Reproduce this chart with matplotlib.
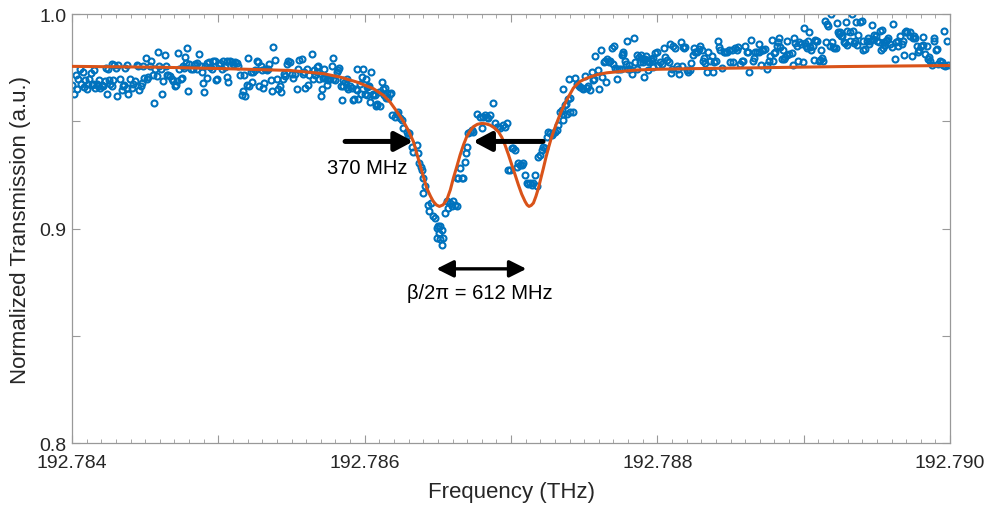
import matplotlib
matplotlib.use('Agg')
import matplotlib.pyplot as plt
import numpy as np

plt.rcParams['font.family'] = ['Liberation Sans', 'DejaVu Sans']

# frequencies are offsets in MHz from 192.784 THz, transmission normalised
base_thz = 192.784

# measured points, low-frequency wing
wing_low = [
    (2, 0.9670), (14, 0.9629), (25, 0.9714), (36, 0.9652), (43, 0.9698), (55, 0.9745), (59, 0.9675),
    (73, 0.9732), (82, 0.9660), (89, 0.9691), (100, 0.9652), (112, 0.9675), (118, 0.9698), (128, 0.9726),
    (134, 0.9670), (146, 0.9675), (150, 0.9737), (157, 0.9655), (169, 0.9675), (180, 0.9664), (187, 0.9691),
    (191, 0.9655), (203, 0.9670), (214, 0.9664), (226, 0.9686), (232, 0.9748), (237, 0.9629), (248, 0.9742),
    (255, 0.9691), (260, 0.9675), (271, 0.9768), (273, 0.9664), (282, 0.9691), (287, 0.9763), (301, 0.9748),
    (310, 0.9618), (317, 0.9763), (328, 0.9698), (339, 0.9644), (346, 0.9664), (355, 0.9670), (362, 0.9748),
    (374, 0.9763), (378, 0.9655), (385, 0.9629), (396, 0.9698), (408, 0.9655), (419, 0.9675), (431, 0.9686),
    (442, 0.9763), (453, 0.9760), (460, 0.9644), (469, 0.9664), (476, 0.9680), (487, 0.9760), (492, 0.9701),
    (506, 0.9794), (515, 0.9698), (522, 0.9706), (533, 0.9760), (538, 0.9779), (551, 0.9717), (560, 0.9587),
    (567, 0.9742), (579, 0.9711), (590, 0.9822), (597, 0.9757), (606, 0.9742), (613, 0.9629), (624, 0.9686),
    (636, 0.9807), (642, 0.9760), (651, 0.9714), (658, 0.9717), (670, 0.9711), (681, 0.9698), (693, 0.9686),
    (704, 0.9664), (711, 0.9670), (720, 0.9686), (727, 0.9819), (734, 0.9742), (743, 0.9698), (749, 0.9701),
    (761, 0.9760), (765, 0.9748), (772, 0.9799), (779, 0.9773), (788, 0.9841), (795, 0.9640), (802, 0.9768),
    (811, 0.9742), (825, 0.9742), (834, 0.9763), (841, 0.9768), (852, 0.9773), (857, 0.9742), (870, 0.9814),
    (879, 0.9760), (886, 0.9732), (898, 0.9680), (902, 0.9636), (909, 0.9760), (920, 0.9773), (925, 0.9701),
    (939, 0.9776), (943, 0.9752), (954, 0.9745), (966, 0.9779), (977, 0.9779), (984, 0.9691), (993, 0.9698),
    (1007, 0.9763), (1011, 0.9773), (1023, 0.9745), (1034, 0.9779), (1046, 0.9752), (1057, 0.9779),
    (1062, 0.9706), (1068, 0.9683), (1080, 0.9779), (1091, 0.9776), (1103, 0.9768), (1114, 0.9776),
    (1125, 0.9773), (1137, 0.9760), (1148, 0.9717), (1160, 0.9621), (1166, 0.9640), (1175, 0.9717),
    (1182, 0.9618), (1194, 0.9670), (1205, 0.9794), (1212, 0.9664), (1221, 0.9729), (1228, 0.9683),
    (1239, 0.9732), (1251, 0.9737), (1262, 0.9779), (1273, 0.9776), (1280, 0.9664), (1289, 0.9760),
    (1296, 0.9737), (1303, 0.9655), (1312, 0.9680), (1319, 0.9745), (1330, 0.9737), (1342, 0.9745),
    (1349, 0.9768), (1358, 0.9691), (1365, 0.9640), (1376, 0.9845), (1387, 0.9788), (1399, 0.9698),
    (1410, 0.9652), (1421, 0.9664), (1426, 0.9636), (1440, 0.9698), (1449, 0.9722), (1456, 0.9711),
    (1467, 0.9768), (1478, 0.9779), (1490, 0.9776), (1501, 0.9722), (1513, 0.9701), (1524, 0.9722),
    (1535, 0.9652), (1547, 0.9742), (1554, 0.9788),
    (1570, 0.9791), (1577, 0.9722), (1586, 0.9732), (1593, 0.9655), (1604, 0.9745), (1615, 0.9670),
    (1622, 0.9717), (1638, 0.9814), (1645, 0.9698), (1654, 0.9737), (1661, 0.9717), (1672, 0.9752),
    (1677, 0.9732), (1684, 0.9760), (1690, 0.9695), (1700, 0.9618), (1706, 0.9652), (1718, 0.9701),
    (1722, 0.9745), (1729, 0.9701), (1741, 0.9670), (1745, 0.9698), (1752, 0.9691), (1763, 0.9698),
    (1775, 0.9757), (1782, 0.9794), (1786, 0.9698), (1798, 0.9691), (1809, 0.9729), (1820, 0.9737),
    (1827, 0.9748), (1836, 0.9664), (1843, 0.9598), (1850, 0.9691), (1854, 0.9664), (1866, 0.9683),
    (1877, 0.9660), (1882, 0.9698), (1889, 0.9649), (1900, 0.9664), (1911, 0.9655), (1918, 0.9598),
    (1927, 0.9602), (1941, 0.9652), (1946, 0.9644), (1950, 0.9745), (1957, 0.9602), (1968, 0.9675),
    (1973, 0.9629), (1980, 0.9706), (1991, 0.9745), (2003, 0.9629), (2009, 0.9698), (2014, 0.9621),
    (2018, 0.9660), (2025, 0.9664), (2032, 0.9664), (2037, 0.9590), (2041, 0.9729), (2055, 0.9629),
    (2060, 0.9621), (2071, 0.9621), (2078, 0.9571), (2082, 0.9582), (2087, 0.9578), (2100, 0.9636),
    (2105, 0.9571), (2116, 0.9683), (2123, 0.9649), (2132, 0.9621), (2139, 0.9655), (2146, 0.9609),
    (2155, 0.9633), (2162, 0.9609), (2173, 0.9629), (2178, 0.9633),
]

# measured points across the split resonance
doublet = [
    (2185, 0.9529), (2207, 0.9521), (2219, 0.9536), (2230, 0.9544), (2242, 0.9513), (2253, 0.9505),
    (2264, 0.9470), (2287, 0.9451), (2299, 0.9436), (2305, 0.9444), (2321, 0.9382), (2333, 0.9358),
    (2356, 0.9389), (2367, 0.9351), (2374, 0.9304), (2383, 0.9289), (2390, 0.9273), (2401, 0.9235),
    (2413, 0.9196), (2401, 0.9165), (2435, 0.9111), (2442, 0.9080), (2451, 0.9119), (2469, 0.9057),
    (2481, 0.9049), (2492, 0.9003), (2504, 0.9010), (2515, 0.9010), (2526, 0.8995), (2510, 0.8979),
    (2515, 0.8949), (2526, 0.8925), (2492, 0.8956), (2538, 0.8956), (2549, 0.9072), (2561, 0.9126),
    (2572, 0.9096), (2583, 0.9119), (2595, 0.9103), (2606, 0.9126), (2618, 0.9111), (2633, 0.9103),
    (2629, 0.9235), (2640, 0.9235), (2652, 0.9281), (2663, 0.9235), (2675, 0.9235), (2686, 0.9312),
    (2693, 0.9351), (2702, 0.9382), (2709, 0.9444), (2720, 0.9451), (2731, 0.9459), (2743, 0.9451),
    (2766, 0.9532), (2788, 0.9521), (2800, 0.9467), (2811, 0.9521), (2823, 0.9529), (2834, 0.9521),
    (2845, 0.9513), (2857, 0.9529), (2880, 0.9583), (2891, 0.9490), (2902, 0.9475), (2914, 0.9475),
    (2925, 0.9467), (2948, 0.9482), (2959, 0.9475), (2971, 0.9490), (2982, 0.9273), (2993, 0.9273),
    (3005, 0.9374), (3016, 0.9374), (3028, 0.9366), (3039, 0.9289), (3050, 0.9304), (3062, 0.9297),
    (3073, 0.9297), (3085, 0.9304), (3096, 0.9250), (3107, 0.9211), (3119, 0.9207), (3130, 0.9211),
    (3142, 0.9204), (3153, 0.9211), (3164, 0.9250), (3176, 0.9196), (3187, 0.9335), (3198, 0.9343),
    (3210, 0.9366), (3221, 0.9382), (3233, 0.9374), (3244, 0.9428), (3255, 0.9451), (3267, 0.9444),
    (3278, 0.9436), (3290, 0.9444), (3301, 0.9451), (3312, 0.9459), (3324, 0.9482), (3335, 0.9544),
    (3346, 0.9552), (3358, 0.9536), (3356, 0.9504), (3369, 0.9575), (3381, 0.9536), (3403, 0.9544),
    (3426, 0.9544), (3376, 0.9582), (3392, 0.9606), (3404, 0.9610),
]

# measured points, high-frequency wing
wing_high = [
    (3354, 0.9652), (3399, 0.9698), (3438, 0.9703), (3454, 0.9675), (3461, 0.9664), (3472, 0.9660),
    (3483, 0.9655), (3495, 0.9649), (3506, 0.9711), (3518, 0.9655), (3529, 0.9664), (3540, 0.9644),
    (3552, 0.9729), (3563, 0.9691), (3568, 0.9698), (3575, 0.9804), (3597, 0.9737), (3604, 0.9649),
    (3613, 0.9830), (3620, 0.9706), (3632, 0.9776), (3643, 0.9783), (3650, 0.9683), (3659, 0.9791),
    (3666, 0.9776), (3677, 0.9783), (3688, 0.9841), (3695, 0.9768), (3704, 0.9853), (3711, 0.9748),
    (3723, 0.9698), (3727, 0.9742), (3741, 0.9745), (3750, 0.9742), (3757, 0.9807), (3764, 0.9822),
    (3768, 0.9814), (3780, 0.9783), (3786, 0.9768), (3791, 0.9872), (3796, 0.9742), (3809, 0.9763),
    (3814, 0.9742), (3825, 0.9722), (3837, 0.9887), (3848, 0.9776), (3859, 0.9807), (3864, 0.9745),
    (3871, 0.9799), (3882, 0.9776), (3887, 0.9810), (3900, 0.9791), (3905, 0.9776), (3909, 0.9706),
    (3916, 0.9791), (3923, 0.9804), (3928, 0.9779), (3939, 0.9737), (3946, 0.9776), (3955, 0.9791),
    (3962, 0.9783), (3969, 0.9752), (3973, 0.9794), (3985, 0.9819), (3996, 0.9825), (4007, 0.9763),
    (4019, 0.9776), (4030, 0.9768), (4042, 0.9841), (4053, 0.9799), (4064, 0.9788), (4076, 0.9776),
    (4083, 0.9861), (4092, 0.9726), (4099, 0.9745), (4110, 0.9853), (4121, 0.9841), (4133, 0.9760),
    (4144, 0.9745), (4151, 0.9722), (4160, 0.9869), (4167, 0.9760), (4174, 0.9845), (4183, 0.9841),
    (4190, 0.9845), (4201, 0.9737), (4212, 0.9729), (4224, 0.9737), (4228, 0.9773), (4242, 0.9810),
    (4251, 0.9841), (4258, 0.9822), (4269, 0.9825), (4281, 0.9838), (4292, 0.9853), (4304, 0.9830),
    (4310, 0.9783), (4319, 0.9794), (4326, 0.9773), (4338, 0.9732), (4349, 0.9822), (4360, 0.9783),
    (4372, 0.9804), (4383, 0.9729), (4388, 0.9776), (4401, 0.9779), (4411, 0.9876), (4424, 0.9845),
    (4429, 0.9830), (4440, 0.9748), (4452, 0.9825), (4463, 0.9825), (4474, 0.9825), (4486, 0.9830),
    (4497, 0.9776), (4508, 0.9830), (4520, 0.9776), (4531, 0.9841), (4543, 0.9830), (4554, 0.9845),
    (4565, 0.9768), (4577, 0.9779), (4588, 0.9783), (4600, 0.9853), (4611, 0.9822), (4622, 0.9825),
    (4629, 0.9732), (4638, 0.9881), (4652, 0.9779), (4661, 0.9794), (4668, 0.9825), (4679, 0.9825),
    (4691, 0.9861), (4697, 0.9825), (4707, 0.9763), (4713, 0.9830), (4725, 0.9834), (4736, 0.9838),
    (4748, 0.9745), (4752, 0.9763), (4766, 0.9779), (4770, 0.9804), (4782, 0.9881), (4789, 0.9783),
    (4798, 0.9819), (4805, 0.9822), (4816, 0.9853), (4827, 0.9869), (4834, 0.9887), (4839, 0.9845),
    (4850, 0.9791), (4857, 0.9834), (4866, 0.9791), (4873, 0.9799), (4884, 0.9807), (4889, 0.9872),
    (4902, 0.9814), (4918, 0.9819), (4925, 0.9763), (4934, 0.9887), (4941, 0.9865), (4953, 0.9853),
    (4964, 0.9783), (4971, 0.9869), (4980, 0.9861), (4994, 0.9776), (5003, 0.9933), (5010, 0.9865),
    (5016, 0.9853), (5025, 0.9841), (5032, 0.9872), (5039, 0.9918), (5044, 0.9845), (5048, 0.9834),
    (5062, 0.9853), (5071, 0.9788), (5078, 0.9881), (5085, 0.9872), (5094, 0.9872), (5101, 0.9783),
    (5112, 0.9788), (5117, 0.9830), (5123, 0.9794), (5135, 0.9783), (5146, 0.9969), (5153, 0.9869),
    (5162, 0.9954), (5169, 0.9946), (5180, 0.9853), (5185, 0.9998), (5192, 0.9869), (5199, 0.9845),
    (5208, 0.9841), (5221, 0.9841), (5226, 0.9958), (5237, 0.9915), (5244, 0.9907), (5249, 0.9918),
    (5253, 0.9899), (5260, 0.9896), (5272, 0.9869), (5283, 0.9865), (5290, 0.9964), (5294, 0.9923),
    (5299, 0.9856), (5313, 0.9918), (5317, 0.9876), (5328, 0.9998), (5335, 0.9923), (5344, 0.9865),
    (5351, 0.9872), (5358, 0.9964), (5363, 0.9856), (5374, 0.9903), (5385, 0.9964), (5397, 0.9969),
    (5404, 0.9830), (5408, 0.9876), (5420, 0.9838), (5431, 0.9872), (5436, 0.9887), (5449, 0.9861),
    (5454, 0.9876), (5465, 0.9949), (5472, 0.9884), (5481, 0.9903), (5495, 0.9899), (5499, 0.9876),
    (5511, 0.9869), (5518, 0.9923), (5527, 0.9830), (5534, 0.9927), (5545, 0.9841), (5549, 0.9869),
    (5556, 0.9856), (5563, 0.9876), (5572, 0.9881), (5579, 0.9887), (5590, 0.9861), (5602, 0.9845),
    (5613, 0.9954), (5625, 0.9791), (5631, 0.9869), (5641, 0.9850), (5647, 0.9876), (5659, 0.9899),
    (5670, 0.9861), (5677, 0.9876), (5686, 0.9807), (5693, 0.9918), (5700, 0.9923), (5709, 0.9915),
    (5723, 0.9918), (5727, 0.9896), (5739, 0.9804), (5745, 0.9887), (5754, 0.9896), (5761, 0.9887),
    (5773, 0.9850), (5784, 0.9822), (5791, 0.9830), (5800, 0.9853), (5814, 0.9856), (5818, 0.9892),
    (5830, 0.9814), (5841, 0.9853), (5846, 0.9791), (5859, 0.9799), (5864, 0.9783), (5875, 0.9763),
    (5887, 0.9887), (5891, 0.9872), (5905, 0.9830), (5914, 0.9838), (5921, 0.9768), (5932, 0.9779),
    (5943, 0.9776), (5955, 0.9763), (5959, 0.9923), (5966, 0.9760), (5978, 0.9876), (5989, 0.9763),
]

# fitted curve
fit_curve = [
    (0, 0.9756), (600, 0.9752), (1057, 0.9745), (1490, 0.9737), (1718, 0.9722), (1832, 0.9706),
    (1946, 0.9683), (2060, 0.9652), (2128, 0.9621), (2173, 0.9590), (2215, 0.9550), (2264, 0.9500),
    (2300, 0.9455), (2333, 0.9405), (2378, 0.9297), (2424, 0.9188), (2450, 0.9150), (2469, 0.9126),
    (2490, 0.9110), (2510, 0.9103), (2535, 0.9110), (2561, 0.9134), (2585, 0.9180), (2606, 0.9235),
    (2630, 0.9290), (2652, 0.9343), (2675, 0.9390), (2697, 0.9428), (2720, 0.9455), (2743, 0.9475),
    (2770, 0.9486), (2800, 0.9490), (2830, 0.9488), (2857, 0.9482), (2885, 0.9470), (2914, 0.9451),
    (2937, 0.9425), (2959, 0.9389), (2982, 0.9345), (3005, 0.9297), (3028, 0.9250), (3050, 0.9204),
    (3073, 0.9160), (3096, 0.9126), (3110, 0.9110), (3123, 0.9103), (3138, 0.9108), (3153, 0.9119),
    (3170, 0.9150), (3187, 0.9188), (3204, 0.9235), (3221, 0.9281), (3238, 0.9330), (3255, 0.9374),
    (3272, 0.9415), (3290, 0.9451), (3307, 0.9483), (3324, 0.9513), (3341, 0.9542), (3358, 0.9567),
    (3381, 0.9600), (3426, 0.9655), (3472, 0.9686), (3518, 0.9701), (3586, 0.9717), (3654, 0.9726),
    (3745, 0.9732), (3859, 0.9739), (3973, 0.9742), (4201, 0.9745), (4543, 0.9748), (5249, 0.9755),
    (6000, 0.9760),
]

x_ticks = [192.784, 192.785, 192.786, 192.787, 192.788, 192.789, 192.790]
x_ticklabels = ['192.784', '', '192.786', '', '192.788', '', '192.790']
y_ticks = [0.80, 0.85, 0.90, 0.95, 1.00]
y_ticklabels = ['0.8', '', '0.9', '', '1.0']

blue = '#0072BD'
orange = '#D95319'
axis_grey = '#999999'
text_col = '#262626'

points = wing_low + doublet + wing_high
freq = np.array([p[0] for p in points]) * 1e-6 + base_thz
trans = np.array([p[1] for p in points])
fit_f = np.array([p[0] for p in fit_curve]) * 1e-6 + base_thz
fit_t = np.array([p[1] for p in fit_curve])

fig = plt.figure(figsize=(9.88, 5.06), dpi=100)
ax = fig.add_axes([0.0729, 0.1225, 0.8887, 0.8478])

ax.plot(freq, trans, 'o', ls='none', ms=4.3, mfc='none', mec=blue, mew=1.5, zorder=2)
ax.plot(fit_f, fit_t, '-', color=orange, lw=2.2, zorder=3)

ax.set_xlim(192.784, 192.790)
ax.set_ylim(0.8, 1.0)
ax.set_xticks(x_ticks)
ax.set_xticklabels(x_ticklabels)
ax.set_xticks(np.linspace(192.784, 192.790, 61), minor=True)
ax.set_yticks(y_ticks)
ax.set_yticklabels(y_ticklabels)

ax.tick_params(which='both', direction='in', top=True, right=True, colors=axis_grey,
               labelcolor=text_col, labelsize=14)
ax.tick_params(which='major', length=6, width=0.8)
ax.tick_params(which='minor', length=3, width=0.6)
ax.tick_params(axis='x', pad=8)
ax.tick_params(axis='y', pad=4)
for s in ax.spines.values():
    s.set_color(axis_grey)
    s.set_linewidth(0.9)

ax.set_xlabel('Frequency (THz)', fontsize=16, color=text_col, labelpad=7)
ax.set_ylabel('Normalized Transmission (a.u.)', fontsize=16, color=text_col, labelpad=6)

def f(mhz):
    return base_thz + mhz * 1e-6

big_head = dict(arrowstyle='-|>,head_length=0.6,head_width=0.32', color='k', lw=3.6,
                mutation_scale=18, shrinkA=0, shrinkB=0)
ax.annotate('', xy=(f(2331), 0.9406), xytext=(f(1866), 0.9406), arrowprops=big_head, zorder=5)
ax.annotate('', xy=(f(2741), 0.9406), xytext=(f(3219), 0.9406), arrowprops=big_head, zorder=5)
ax.annotate('', xy=(f(2490), 0.8812), xytext=(f(3105), 0.8812),
            arrowprops=dict(arrowstyle='<|-|>,head_length=0.6,head_width=0.3', color='k', lw=2.4,
                            mutation_scale=17, shrinkA=0, shrinkB=0), zorder=5)
ax.text(f(2016), 0.9285, '370 MHz', fontsize=14.5, color='k', ha='center', va='center')
ax.text(f(2789), 0.8700, 'β/2π = 612 MHz', fontsize=14.5, color='k', ha='center', va='center')

fig.savefig('out.png', dpi=100)
